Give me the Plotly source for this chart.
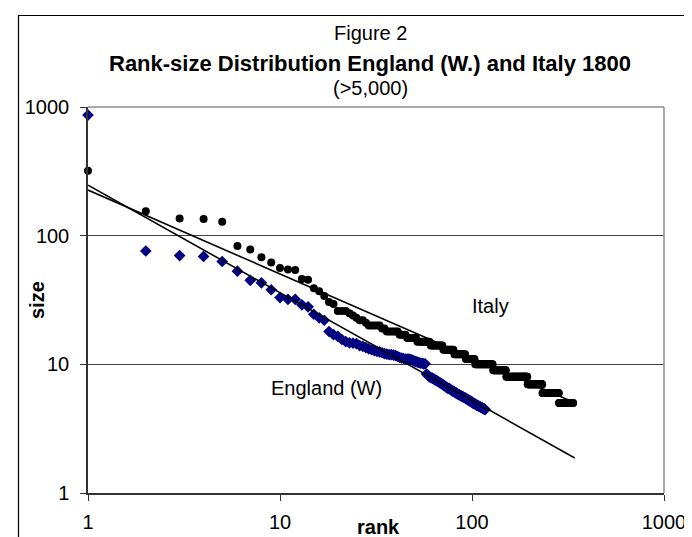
import plotly.graph_objects as go

# ---------------- data ----------------
# England (W.) city sizes (thousands) by rank
england_sizes = [865, 76, 70, 69, 63, 53, 45, 43, 38, 33, 32, 32, 29, 28, 24.5, 23, 22, 18, 17, 16.5,
                 15.6, 15, 14.7, 14.6, 14.5, 14, 13.8, 13.5, 13.2, 13, 12.8, 12.6, 12.5, 12.3, 12.1, 12, 11.9, 11.9, 11.8, 11.7,
                 11.5, 11.3, 11.2, 11.1, 11, 11, 11, 10.9, 10.8, 10.6, 10.5, 10.4, 10.3, 10.2, 10.2, 10.1, 10.1,
                 8.4, 8.2, 8.0, 7.9, 7.8, 7.7, 7.6, 7.5, 7.4, 7.3, 7.2, 7.1, 7.0, 6.9, 6.8, 6.7, 6.6, 6.5, 6.5, 6.4,
                 6.3, 6.2, 6.2, 6.1, 6.0, 6.0, 5.9, 5.8, 5.8, 5.7, 5.7, 5.6, 5.6, 5.5, 5.5, 5.4, 5.4, 5.3, 5.3, 5.2,
                 5.2, 5.1, 5.1, 5.0, 5.0, 4.95, 4.9, 4.85, 4.8, 4.8, 4.75, 4.7, 4.7, 4.65, 4.6, 4.6, 4.55, 4.5, 4.5, 4.45]

# Italy: largest cities individually, then the tail as (size, number of cities) runs
italy_top_sizes = [320, 155, 136, 135, 128, 83, 78, 68, 62, 56, 54.5, 54, 46, 45.5, 39, 37, 34, 30.5, 29.5]
italy_tail_levels = [26, 25, 24, 23, 22, 21, 20, 19, 18, 17, 16, 15, 14, 13, 12, 11, 10, 9, 8, 7, 6, 5]
italy_tail_counts = [3, 1, 1, 1, 2, 1, 5, 2, 6, 4, 6, 9, 10, 10, 12, 11, 25, 22, 44, 38, 51, 53]

# fitted power-law trend lines (end points)
england_fit_rank = [1, 343]
england_fit_size = [247, 1.87]
italy_fit_rank = [1, 336]
italy_fit_size = [226, 5.1]

x_tick_vals = [1, 10, 100, 1000]
x_tick_text = ["1", "10", "100", "1000"]
y_tick_vals = [1, 10, 100, 1000]
y_tick_text = ["1", "10", "100", "1000"]

# ---------------- build series ----------------
italy_sizes = list(italy_top_sizes)
for lvl, cnt in zip(italy_tail_levels, italy_tail_counts):
    italy_sizes += [lvl] * cnt
italy_ranks = list(range(1, len(italy_sizes) + 1))
england_ranks = list(range(1, len(england_sizes) + 1))

W, H = 692, 537
L, R, T, B = 80, 656, 99, 485  # plot area in pixels


def px(x):
    return (x - L) / (R - L)


def py(y):
    return (B - y) / (B - T)


FONT = "Liberation Sans, Arial, sans-serif"

fig = go.Figure()
fig.add_trace(go.Scatter(x=italy_ranks, y=italy_sizes, mode="markers", name="Italy",
                         marker=dict(symbol="circle", size=8, color="#000000"), cliponaxis=False))
fig.add_trace(go.Scatter(x=england_ranks, y=england_sizes, mode="markers", name="England (W)",
                         marker=dict(symbol="diamond", size=9, color="#000080"), cliponaxis=False))
fig.add_trace(go.Scatter(x=italy_fit_rank, y=italy_fit_size, mode="lines",
                         line=dict(color="#000000", width=1.6)))
fig.add_trace(go.Scatter(x=england_fit_rank, y=england_fit_size, mode="lines",
                         line=dict(color="#000000", width=1.6)))

fig.update_layout(
    width=W, height=H,
    margin=dict(l=L, r=W - R, t=T, b=H - B, pad=0),
    paper_bgcolor="white", plot_bgcolor="white",
    showlegend=False,
    font=dict(family=FONT, size=20, color="#000000"),
    xaxis=dict(type="log", range=[0, 3], tickvals=x_tick_vals, ticktext=x_tick_text,
               showgrid=False, zeroline=False, showline=True, linecolor="#333333", linewidth=1.5,
               ticks="outside", ticklen=6, tickcolor="#333333", tickwidth=1,
               ticklabelstandoff=4, tickfont=dict(size=20, family=FONT)),
    yaxis=dict(type="log", range=[0, 3], tickvals=y_tick_vals, ticktext=y_tick_text,
               showgrid=True, gridcolor="#404040", gridwidth=1, zeroline=False,
               showline=True, linecolor="#333333", linewidth=1.5,
               ticks="outside", ticklen=6, tickcolor="#333333", tickwidth=1,
               ticklabelstandoff=7, tickfont=dict(size=20, family=FONT)),
)

# gray plot-area border (top and right), outer chart frame
fig.add_shape(type="line", xref="paper", yref="paper", x0=0, x1=1, y0=1, y1=1,
              line=dict(color="#8c8c8c", width=1.5), layer="above")
fig.add_shape(type="line", xref="paper", yref="paper", x0=1, x1=1, y0=0, y1=1,
              line=dict(color="#8c8c8c", width=1.5), layer="above")
fig.add_shape(type="rect", xref="paper", yref="paper", x0=px(10.5), x1=px(714), y0=py(7.5), y1=py(560),
              line=dict(color="#000000", width=1.2), fillcolor="rgba(0,0,0,0)", layer="above")

ann = [
    dict(text="Figure 2", x=px(362), y=py(25), size=20, angle=0),
    dict(text="<b>Rank-size Distribution England (W.) and Italy 1800</b>", x=px(362), y=py(55), size=22, angle=0),
    dict(text="(>5,000)", x=px(362), y=py(80), size=20, angle=0),
    dict(text="<b>size</b>", x=px(29), y=py(292), size=20, angle=-90),
    dict(text="<b>rank</b>", x=px(370), y=py(519), size=20, angle=0),
    dict(text="Italy", x=px(482), y=py(298), size=20, angle=0),
    dict(text="England (W)", x=px(318), y=py(380), size=20, angle=0),
]
for a in ann:
    fig.add_annotation(text=a["text"], x=a["x"], y=a["y"], xref="paper", yref="paper",
                       xanchor="center", yanchor="middle", showarrow=False, textangle=a["angle"],
                       font=dict(family=FONT, size=a["size"], color="#000000"))

fig.write_html("out.html")
